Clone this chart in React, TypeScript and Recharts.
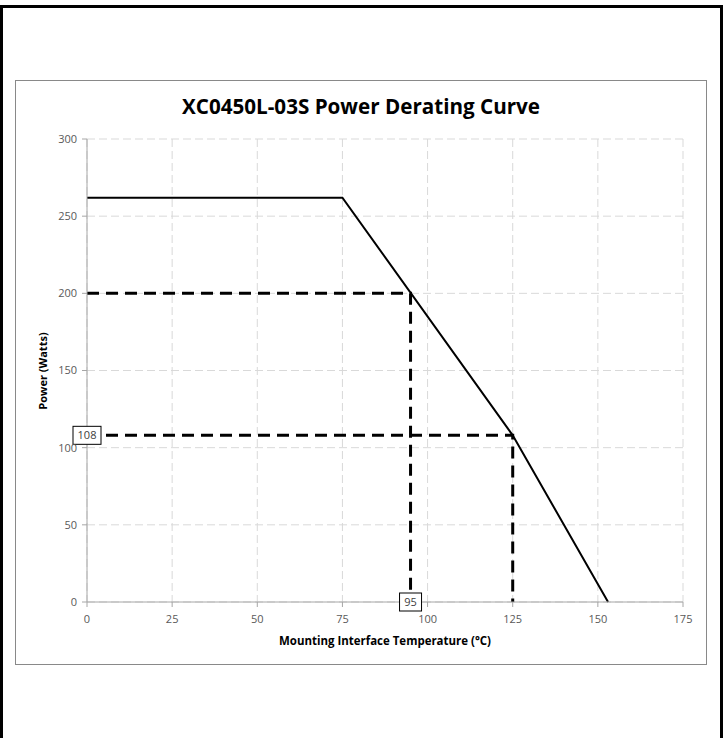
import React from "react";
import {
  CartesianGrid,
  Line,
  LineChart,
  ReferenceDot,
  XAxis,
  YAxis,
} from "recharts";

const deratingCurve = [
  { temp: 0, power: 262 },
  { temp: 75, power: 262 },
  { temp: 125, power: 108 },
  { temp: 153, power: 0 },
];

const guide95 = [
  { temp: 0, power: 200 },
  { temp: 95, power: 200 },
  { temp: 95, power: 0 },
];

const guide125 = [
  { temp: 0, power: 108 },
  { temp: 125, power: 108 },
  { temp: 125, power: 0 },
];

const xTicks = [0, 25, 50, 75, 100, 125, 150, 175];
const yTicks = [0, 50, 100, 150, 200, 250, 300];

const FONT = "'Open Sans', 'Liberation Sans', sans-serif";
const TICK = { fill: "#595959", fontSize: 11, fontFamily: FONT };

function BoxLabel({ cx, cy, text, w }: any) {
  return (
    <g>
      <rect x={cx - w / 2} y={cy - 9} width={w} height={18} fill="#fff" stroke="#000" strokeWidth={1} />
      <text x={cx} y={cy + 4} textAnchor="middle" fontSize={11} fontFamily={FONT} fill="#404040">
        {text}
      </text>
    </g>
  );
}

export default function App() {
  return (
    <div style={{ position: "absolute", left: 0, top: 0, width: 727, height: 738, background: "#fff", overflow: "hidden" }}>
      <div
        style={{
          position: "absolute",
          left: 0,
          top: 5,
          width: 723,
          height: 760,
          border: "3px solid #000",
          boxSizing: "border-box",
        }}
      />
      <div
        style={{
          position: "absolute",
          left: 15,
          top: 80,
          width: 692,
          height: 585,
          border: "1px solid #898989",
          boxSizing: "border-box",
        }}
      >
        <svg width={690} height={50} style={{ position: "absolute", left: 0, top: 0 }}>
          <text
            x={345}
            y={33}
            textAnchor="middle"
            fontSize={21}
            fontWeight="bold"
            fontFamily={FONT}
            fill="#000"
            textLength={358}
            lengthAdjust="spacingAndGlyphs"
          >
            XC0450L-03S Power Derating Curve
          </text>
        </svg>
        <LineChart
          width={690}
          height={583}
          margin={{ top: 58, right: 23, bottom: 0, left: 0 }}
          style={{ position: "absolute", left: 0, top: 0 }}
        >
          <CartesianGrid stroke="#d9d9d9" strokeDasharray="8 4" />
          <XAxis
            type="number"
            dataKey="temp"
            domain={[0, 175]}
            ticks={xTicks}
            interval={0}
            height={62}
            tick={TICK}
            tickSize={5}
            tickMargin={8}
            stroke="#a6a6a6"
            allowDuplicatedCategory={false}
            label={{
              content: () => (
                <text
                  x={369}
                  y={564}
                  textAnchor="middle"
                  fontSize={11.5}
                  fontWeight="bold"
                  fontFamily={FONT}
                  fill="#000"
                  textLength={212}
                  lengthAdjust="spacingAndGlyphs"
                >
                  Mounting Interface Temperature (°C)
                </text>
              ),
            }}
          />
          <YAxis
            type="number"
            dataKey="power"
            domain={[0, 300]}
            ticks={yTicks}
            interval={0}
            width={71}
            tick={TICK}
            tickSize={5}
            tickMargin={5}
            stroke="#a6a6a6"
            label={{
              content: () => (
                <text
                  x={31}
                  y={290}
                  transform="rotate(-90 31 290)"
                  textAnchor="middle"
                  fontSize={11}
                  fontWeight="bold"
                  fontFamily={FONT}
                  fill="#000"
                >
                  Power (Watts)
                </text>
              ),
            }}
          />
          <Line
            data={guide95}
            dataKey="power"
            type="linear"
            stroke="#000"
            strokeWidth={3}
            strokeDasharray="12 7"
            dot={false}
            activeDot={false}
            isAnimationActive={false}
          />
          <Line
            data={guide125}
            dataKey="power"
            type="linear"
            stroke="#000"
            strokeWidth={3}
            strokeDasharray="12 7"
            dot={false}
            activeDot={false}
            isAnimationActive={false}
          />
          <Line
            data={deratingCurve}
            dataKey="power"
            type="linear"
            stroke="#000"
            strokeWidth={2}
            dot={false}
            activeDot={false}
            isAnimationActive={false}
          />
          <ReferenceDot
            x={0}
            y={108}
            ifOverflow="visible"
            shape={(p: any) => <BoxLabel cx={p.cx} cy={p.cy} text="108" w={28} />}
          />
          <ReferenceDot
            x={95}
            y={0}
            ifOverflow="visible"
            shape={(p: any) => <BoxLabel cx={p.cx} cy={p.cy} text="95" w={22} />}
          />
        </LineChart>
      </div>
    </div>
  );
}
